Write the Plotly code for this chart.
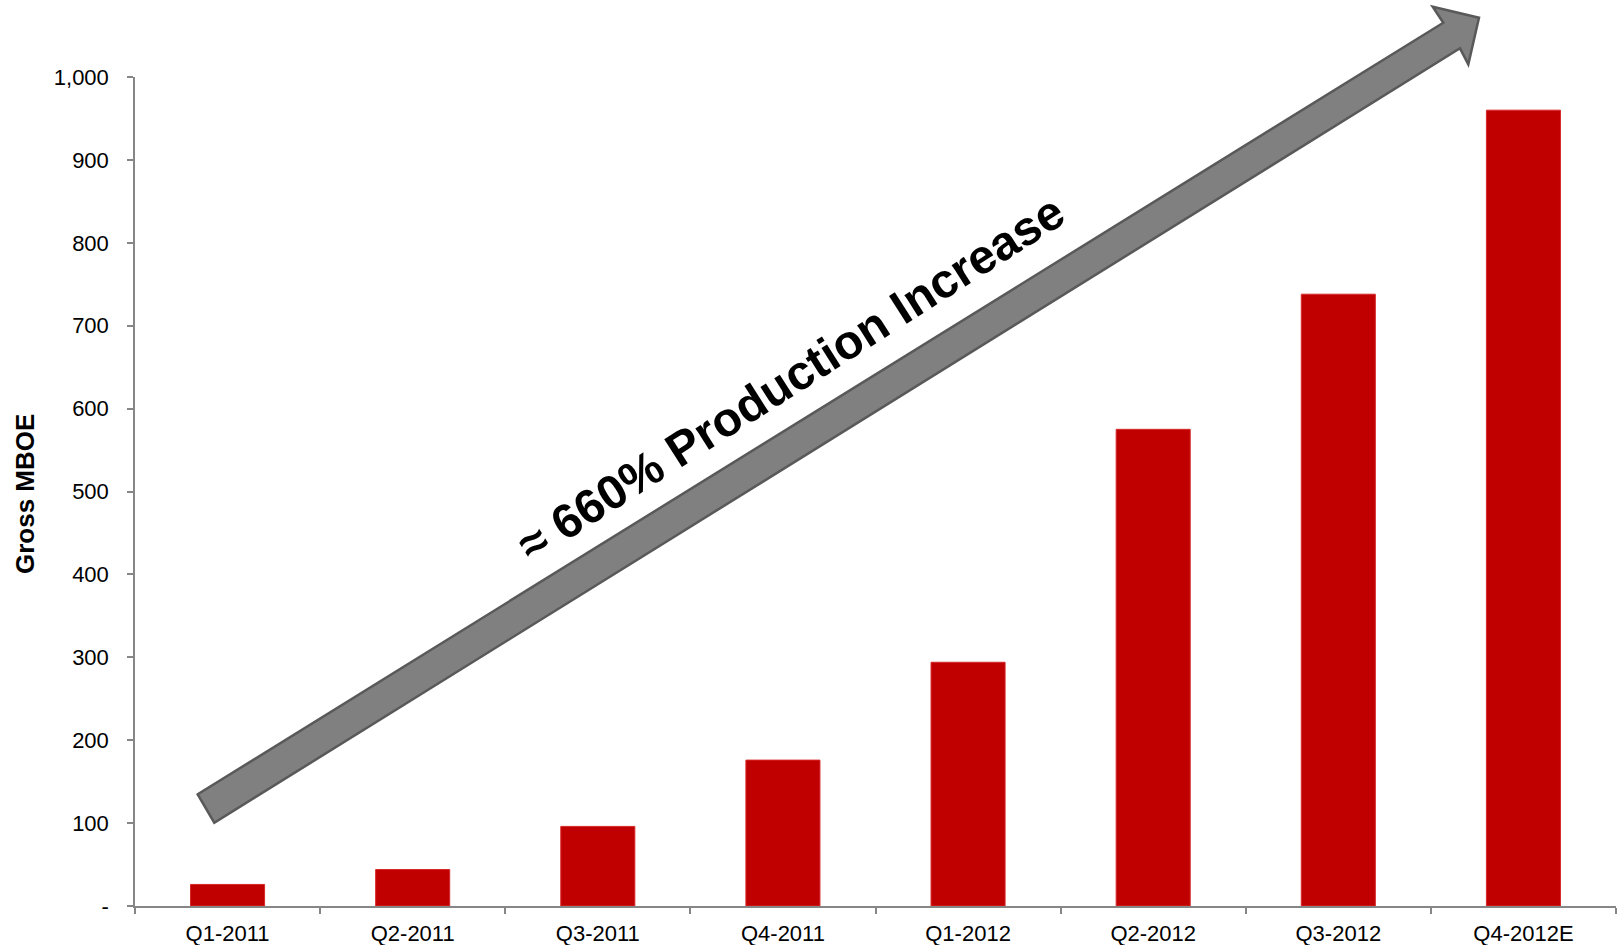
import plotly.graph_objects as go

categories = ["Q1-2011", "Q2-2011", "Q3-2011", "Q4-2011",
              "Q1-2012", "Q2-2012", "Q3-2012", "Q4-2012E"]
production = [26, 44, 96, 176, 294, 575, 738, 960]
y_tickvals = [0, 100, 200, 300, 400, 500, 600, 700, 800, 900, 1000]
y_ticktext = ["-", "100", "200", "300", "400", "500", "600", "700", "800", "900", "1,000"]

W, H = 1617, 945
ML, MR, MT, MB = 135, 1, 77, 39
PW, PH = W - ML - MR, H - MT - MB

def to_paper(px, py):
    return (px - ML) / PW, (H - MB - py) / PH

# decorative arrow outline (pixel positions of the callout shape)
arrow_px = [(197.7, 794.3), (1443.3, 22.7), (1432.7, 6.7), (1479, 17.7),
            (1468.3, 64.3), (1460, 48.3), (214.3, 822.7)]
pts = [to_paper(x, y) for x, y in arrow_px]
path = "M " + " L ".join(f"{x:.5f},{y:.5f}" for x, y in pts) + " Z"

font = "Arial, Liberation Sans, sans-serif"

fig = go.Figure(go.Bar(
    x=categories, y=production,
    marker=dict(color="#C00000", line=dict(color="#D62828", width=1)),
    width=0.4,
))

tx, ty = to_paper(790, 378)
gx, gy = to_paper(25, 494)

fig.update_layout(
    width=W, height=H,
    margin=dict(l=ML, r=MR, t=MT, b=MB),
    plot_bgcolor="white", paper_bgcolor="white",
    showlegend=False,
    font=dict(family=font, size=22, color="black"),
    xaxis=dict(
        type="category", showline=True, linecolor="#868686", linewidth=1.5,
        ticks="outside", ticklen=6, tickcolor="#868686", tickwidth=1.5,
        tickson="boundaries", showgrid=False, zeroline=False,
        tickfont=dict(family=font, size=22, color="black"),
        ticklabelstandoff=7, automargin=False,
    ),
    yaxis=dict(
        range=[0, 1000], showline=True, linecolor="#868686", linewidth=1.5,
        ticks="outside", ticklen=6, tickcolor="#868686", tickwidth=1.5,
        tickvals=y_tickvals, ticktext=y_ticktext, showgrid=False, zeroline=False,
        tickfont=dict(family=font, size=22, color="black"),
        ticklabelstandoff=14, automargin=False,
    ),
    shapes=[dict(type="path", xref="paper", yref="paper", path=path,
                 fillcolor="#808080", line=dict(color="#595959", width=2.5),
                 layer="above")],
    annotations=[
        dict(text="<b>≈ 660% Production Increase</b>", xref="paper", yref="paper",
             x=tx, y=ty, showarrow=False, textangle=-32.5,
             font=dict(family=font, size=48, color="black"),
             xanchor="center", yanchor="middle"),
        dict(text="<b>Gross MBOE</b>", xref="paper", yref="paper",
             x=gx, y=gy, showarrow=False, textangle=-90,
             font=dict(family=font, size=26, color="black"),
             xanchor="center", yanchor="middle"),
    ],
)

fig.write_html("out.html")
